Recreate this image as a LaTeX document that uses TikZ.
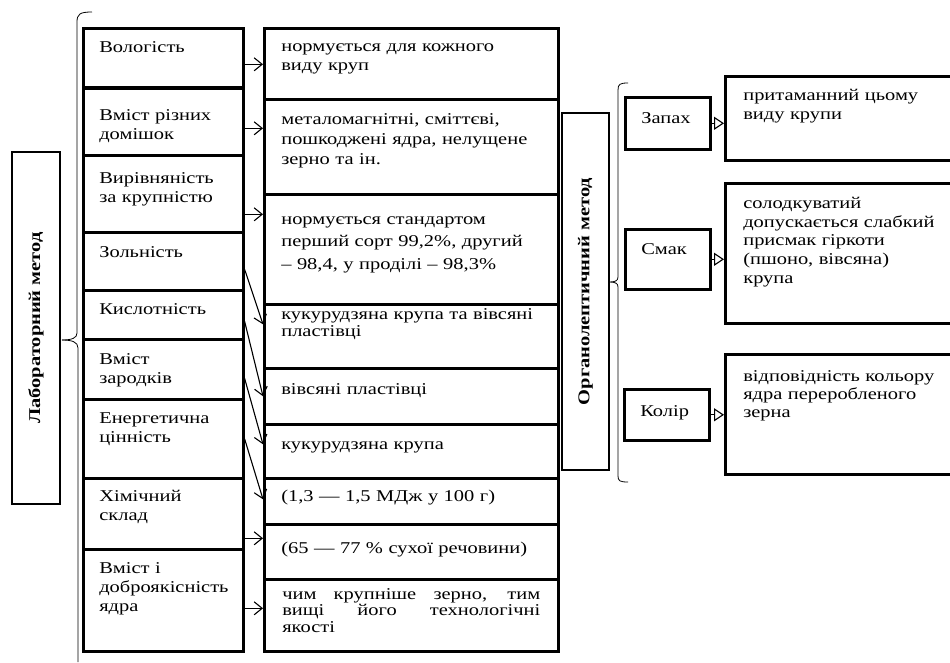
\documentclass[tikz,border=0pt]{standalone}
\usepackage{fontspec}
\setmainfont{Liberation Serif}[FakeStretch=1.24]
\usetikzlibrary{arrows.meta}
\hyphenpenalty=10000
\exhyphenpenalty=10000
\hbadness=10000
\hfuzz=20pt

\tikzset{
  cell/.style={draw, line width=2.6pt, anchor=north west, inner ysep=0pt, align=left, font=\fontsize{16.5}{19}\selectfont},
  lcell/.style={cell, inner xsep=16pt, text width=128pt},
  mcell/.style={cell, inner xsep=17pt, text width=260pt},
  scell/.style={cell, inner xsep=16pt, text width=53pt},
  rcell/.style={cell, inner xsep=18pt, text width=198pt},
  method/.style={draw, line width=2.6pt, rotate=90, inner sep=0pt, font=\bfseries\fontsize{16.5}{18}\selectfont},
  brace/.style={line width=0.8pt},
  arr/.style={line width=1.1pt, -{Straight Barb[length=8pt,width=13pt]}},
  rarr/.style={line width=1.1pt, -{Triangle[open,length=10pt,width=13pt]}}
}

\begin{document}
\begin{tikzpicture}[x=1pt,y=-1pt]
\useasboundingbox (0,0) rectangle (950,662);

% methods
\node[method, minimum width=352pt, minimum height=48pt] (lab) at (36,328) {Лабораторний метод};
\node[method, minimum width=357pt, minimum height=47pt] (org) at (585.5,291.5) {Органолептичний метод};

% braces
\draw[brace] (92,12) .. controls (80,12) and (77,14) .. (77,22) -- (77,333)
   .. controls (77,338) and (72,340) .. (62,340);
\draw[brace] (62,340) .. controls (72,340) and (78,342) .. (78,348) -- (78,662);
\draw[brace] (628,83) .. controls (620,83) and (618,84) .. (618,90) -- (618,277)
   .. controls (618,281) and (615,282) .. (609,282)
   .. controls (615,282) and (618,283) .. (618,287) -- (618,476)
   .. controls (618,481) and (620,482) .. (628,482);

% left column
\node[lcell, text height=24pt, text depth=35pt] (vol) at (82,27) {Вологість};
\node[lcell, text height=32pt, text depth=35pt] (domish) at (82,87) {Вміст різних\\домішок};
\node[lcell, text height=28pt, text depth=49pt] (vyrivn) at (82,154) {Вирівняність\\за крупністю};
\node[lcell, text height=25pt, text depth=33pt] (zoln) at (82,231) {Зольність};
\node[lcell, text height=24pt, text depth=25pt] (kysl) at (82,289) {Кислотність};
\node[lcell, text height=25pt, text depth=35pt] (zarod) at (82,338) {Вміст\\зародків};
\node[lcell, text height=24pt, text depth=55pt] (energ) at (82,398) {Енергетична\\цінність};
\node[lcell, text height=23pt, text depth=48pt] (khim) at (82,477) {Хімічний\\склад};
\node[lcell, text height=24pt, text depth=78pt] (yadro) at (82,548) {Вміст і\\доброякісність\\ядра};

% middle column
\node[mcell, text height=23pt, text depth=48pt] (nvol) at (263,27) {нормується для кожного\\виду круп};
\node[mcell, text height=25pt, text depth=70pt, font=\fontsize{16.5}{20}\selectfont] (ndomish) at (263,98) {металомагнітні, сміттєві,\\пошкоджені ядра, нелущене\\зерно та ін.};
\node[mcell, text height=30pt, text depth=80pt, font=\fontsize{16.5}{22.5}\selectfont] (nvyrivn) at (263,193) {нормується стандартом\\перший сорт 99,2\%, другий\\– 98,4, у проділі – 98,3\%};
\node[mcell, text height=15pt, text depth=49pt, font=\fontsize{16.5}{17}\selectfont] (nzoln) at (263,303) {кукурудзяна крупа та вівсяні\\пластівці};
\node[mcell, text height=26pt, text depth=30pt] (nkysl) at (263,367) {вівсяні пластівці};
\node[mcell, text height=25pt, text depth=29pt] (nzarod) at (263,423) {кукурудзяна крупа};
\node[mcell, text height=23pt, text depth=23pt] (nenerg) at (263,477) {(1,3 — 1,5 МДж у 100 г)};
\node[mcell, text height=29pt, text depth=26pt] (nkhim) at (263,523) {(65 — 77 \% сухої речовини)};
\node[mcell, inner xsep=18pt, text width=258pt, align=justify, text height=20pt, text depth=52pt, font=\fontsize{16.5}{16.5}\selectfont] (nyadro) at (263,578) {чим крупніше зерно, тим\linebreak вищі його технологічні\linebreak якості};

% right part
\node[scell, text height=26pt, text depth=26pt] (zapakh) at (624,96) {Запах};
\node[scell, text height=25pt, text depth=35pt] (smak) at (624,228) {Смак};
\node[scell, text height=27pt, text depth=24pt] (kolir) at (623,388) {Колір};
\node[rcell, text height=24pt, text depth=60pt] (rzapakh) at (724,75) {притаманний цьому\\виду крупи};
\node[rcell, text height=25pt, text depth=115pt, font=\fontsize{16.5}{18.7}\selectfont] (rsmak) at (724,182) {солодкуватий\\допускається слабкий\\присмак гіркоти\\(пшоно, вівсяна)\\крупа};
\node[rcell, text height=27pt, text depth=93pt, font=\fontsize{16.5}{18.3}\selectfont] (rkolir) at (724,353) {відповідність кольору\\ядра переробленого\\зерна};

% arrows
\draw[arr] ([yshift=-6.5pt]vol.east) -- ([yshift=-6.5pt]vol.east -| nvol.west);
\draw[arr] ([yshift=-6.5pt]domish.east) -- ([yshift=-6.5pt]domish.east -| ndomish.west);
\draw[arr] ([yshift=-20.5pt]vyrivn.east) -- ([yshift=-20.5pt]vyrivn.east -| nvyrivn.west);
\draw[arr] ([yshift=-8pt]zoln.east) -- ([yshift=12pt]nzoln.west);
\draw[arr] ([yshift=-6.5pt]kysl.east) -- (nkysl.west);
\draw[arr] ([yshift=-9pt]zarod.east) -- ([yshift=7pt]nzarod.west);
\draw[arr] (energ.east) -- ([yshift=2pt]nenerg.west);
\draw[arr] ([yshift=-24.5pt]khim.east) -- ([yshift=-24.5pt]khim.east -| nkhim.west);
\draw[arr] ([yshift=-8pt]yadro.east) -- ([yshift=-8pt]yadro.east -| nyadro.west);
\draw[rarr] (zapakh.east) -- (zapakh.east -| rzapakh.west);
\draw[rarr] (smak.east) -- (smak.east -| rsmak.west);
\draw[rarr] (kolir.east) -- (kolir.east -| rkolir.west);
\end{tikzpicture}
\end{document}
